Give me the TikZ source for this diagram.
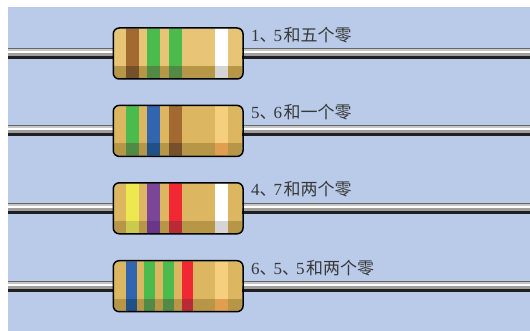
\documentclass[tikz,border=0pt]{standalone}
\usepackage{fontspec}
\setmainfont{Liberation Serif}
\newfontfamily\cjk{Noto Sans CJK SC}
\definecolor{panel}{HTML}{B9CBE8}
\definecolor{bodyA}{HTML}{E8C477}
\definecolor{bodyB}{HTML}{DDB662}
\definecolor{bodyshade}{HTML}{B89648}
\definecolor{brownband}{HTML}{A26A30}
\definecolor{brownshade}{HTML}{75502A}
\definecolor{greenband}{HTML}{4CBB4D}
\definecolor{greenshade}{HTML}{508A45}
\definecolor{blueband}{HTML}{3265B0}
\definecolor{blueshade}{HTML}{1F5088}
\definecolor{yellowband}{HTML}{EDE84F}
\definecolor{yellowshade}{HTML}{CBC94E}
\definecolor{purpleband}{HTML}{7B4599}
\definecolor{purpleshade}{HTML}{6A3688}
\definecolor{redband}{HTML}{EF2833}
\definecolor{redshade}{HTML}{B82A35}
\definecolor{goldband}{HTML}{F6CF7E}
\definecolor{goldshade}{HTML}{E09E50}
\definecolor{whiteshade}{HTML}{D5D5D5}
\tikzset{
  x=1pt,y=-1pt,
  caption/.style={anchor=base west,inner sep=0pt,font=\fontsize{17}{20}\selectfont,text=black!78},
  outline/.style={draw=black,line width=1.5pt,rounded corners=6pt},
}
% ideographic comma on a narrowed advance, and the gap before the Chinese run
\newcommand{\dun}{\makebox[14pt][l]{\cjk 、}}
\newcommand{\zh}[1]{\hspace{1.5pt}{\cjk #1}}
% one resistor: #1 lead centre y, #2 body centre y, #3 body colour,
% #4 bands as x/width/colour/shaded colour, #5 node name
\newcommand{\resistor}[5]{%
  \fill[black!60] (8,#1-5) rectangle (530,#1-3.8);
  \fill[black!22] (8,#1-3.8) rectangle (530,#1-2);
  \fill[white] (8,#1-2) rectangle (530,#1);
  \fill[black!38] (8,#1) rectangle (530,#1+3);
  \fill[black!88] (8,#1+3) rectangle (530,#1+6);
  \begin{scope}
    \clip[rounded corners=6pt] (114,#2-24.8) rectangle (242.3,#2+24.8);
    \fill[#3] (114,#2-25) rectangle (242.3,#2+25);
    \fill[bodyshade] (114,#2+12.5) rectangle (242.3,#2+25);
    \foreach \bx/\bw/\bc/\bs in {#4}{
      \fill[\bc] (\bx,#2-25) rectangle (\bx+\bw,#2+12.5);
      \fill[\bs] (\bx,#2+12.5) rectangle (\bx+\bw,#2+25);
    }
  \end{scope}
  \node[outline,minimum width=129.8pt,minimum height=51pt,inner sep=0pt] (#5) at (178.15,#2) {};
}
\begin{document}
\begin{tikzpicture}
\useasboundingbox (0,0) rectangle (530,331);
\fill[panel] (8,7) rectangle (530,331);

\resistor{53}{53.5}{bodyA}{126/13/brownband/brownshade,147/13/greenband/greenshade,169/13/greenband/greenshade,215/13/white/whiteshade}{resA}
\resistor{130.3}{130.9}{bodyB}{126/13/greenband/greenshade,147/13/blueband/blueshade,169/13/brownband/brownshade,215/13/goldband/goldshade}{resB}
\resistor{208.3}{208.3}{bodyB}{126/13/yellowband/yellowshade,147/13/purpleband/purpleshade,169/13/redband/redshade,215/13/white/whiteshade}{resC}
\resistor{285.5}{286.2}{bodyB}{126/11/blueband/blueshade,144/11/greenband/greenshade,163/11/greenband/greenshade,182/11/redband/redshade,215/13/goldband/goldshade}{resD}

\node[caption] (capA) at (251,42) {1\dun 5\zh{和五个零}};
\node[caption] (capB) at (251,118.3) {5\dun 6\zh{和一个零}};
\node[caption] (capC) at (251,195.7) {4\dun 7\zh{和两个零}};
\node[caption] (capD) at (251,274) {6\dun 5\dun 5\zh{和两个零}};
\end{tikzpicture}
\end{document}
